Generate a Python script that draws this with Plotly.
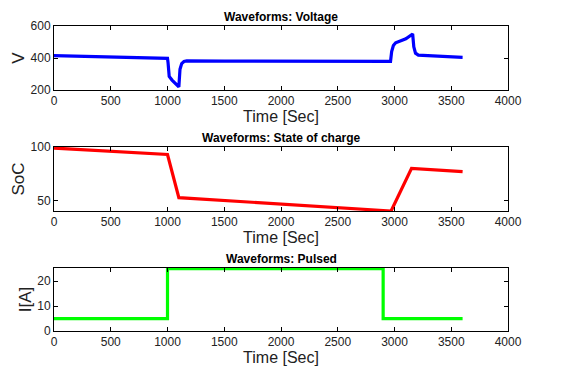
import plotly.graph_objects as go

# Voltage waveform
t_v = [0, 500, 1000, 1005, 1015, 1040, 1100, 1110, 1125, 1145, 1170, 1500, 2000, 2500, 2965, 2975, 2990, 3010, 3050, 3100, 3160, 3170, 3185, 3210, 3250, 3400, 3600]
v = [415, 405, 398, 370, 285, 262, 220, 330, 365, 378, 382, 381, 380, 379, 379, 440, 478, 495, 506, 520, 550, 470, 430, 418, 416, 410, 404]

# State of charge
t_soc = [0, 1000, 1100, 2970, 3150, 3600]
soc = [99, 93, 52.5, 40, 80, 77]

# Pulsed current
t_i = [0, 1000, 1000, 2900, 2900, 3600]
cur = [5, 5, 25, 25, 5, 5]

W, H = 563, 372
FONT = "Liberation Sans, Arial, sans-serif"

def xd(a, b):
    return [a / W, b / W]

def yd(top, bot):
    return [1 - bot / H, 1 - top / H]

fig = go.Figure()
fig.add_trace(go.Scatter(x=t_v, y=v, mode="lines", line=dict(color="#0000FF", width=3.2), xaxis="x", yaxis="y"))
fig.add_trace(go.Scatter(x=t_soc, y=soc, mode="lines", line=dict(color="#FF0000", width=3.2), xaxis="x2", yaxis="y2"))
fig.add_trace(go.Scatter(x=t_i, y=cur, mode="lines", line=dict(color="#00FF00", width=3.2), xaxis="x3", yaxis="y3"))

common_x = dict(range=[0, 4000], tickvals=[0, 500, 1000, 1500, 2000, 2500, 3000, 3500, 4000],
                ticks="inside", ticklen=4, tickcolor="black", mirror="allticks", showline=True,
                linecolor="black", linewidth=1, showgrid=False, zeroline=False, automargin=False,
                tickfont=dict(family=FONT, size=12, color="#222"),
                title=dict(text="Time [Sec]", font=dict(family=FONT, size=16, color="#222"), standoff=2))
common_y = dict(ticks="inside", ticklen=4, tickcolor="black", mirror="allticks", showline=True,
                linecolor="black", linewidth=1, showgrid=False, zeroline=False, automargin=False,
                tickfont=dict(family=FONT, size=12, color="#222"))

dx = xd(54, 508)
fig.update_layout(
    width=W, height=H, margin=dict(l=0, r=0, t=0, b=0),
    paper_bgcolor="white", plot_bgcolor="white", showlegend=False,
    xaxis=dict(common_x, domain=dx, anchor="y"),
    xaxis2=dict(common_x, domain=dx, anchor="y2"),
    xaxis3=dict(common_x, domain=dx, anchor="y3"),
    yaxis=dict(common_y, domain=yd(26, 90), anchor="x", range=[200, 600], tickvals=[200, 400, 600],
               title=dict(text="V", font=dict(family=FONT, size=17, color="#222"), standoff=1)),
    yaxis2=dict(common_y, domain=yd(147, 211), anchor="x2", range=[40, 100], tickvals=[50, 100],
                title=dict(text="SoC", font=dict(family=FONT, size=17, color="#222"), standoff=1)),
    yaxis3=dict(common_y, domain=yd(268, 331), anchor="x3", range=[0, 25.3], tickvals=[0, 10, 20],
                title=dict(text="I[A]", font=dict(family=FONT, size=17, color="#222"), standoff=1)),
)

for title, ypix in [("Waveforms: Voltage", 17), ("Waveforms: State of charge", 138), ("Waveforms: Pulsed", 259)]:
    fig.add_annotation(text="<b>" + title + "</b>", x=281 / W, y=1 - ypix / H, xref="paper", yref="paper",
                       xanchor="center", yanchor="middle", showarrow=False,
                       font=dict(family=FONT, size=12, color="black"))

fig.write_html("out.html")
